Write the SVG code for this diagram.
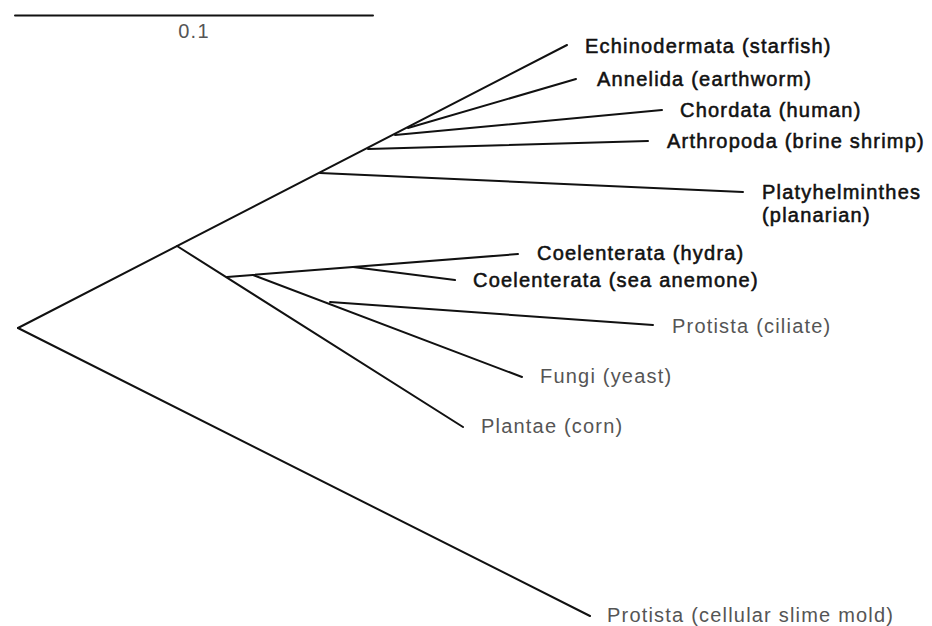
<svg xmlns="http://www.w3.org/2000/svg" width="932" height="626" viewBox="0 0 932 626">
  <style>
    .br { stroke: #111; stroke-width: 2; fill: none; stroke-linecap: round; }
    .lbl { font-family: "Liberation Sans", Arial, sans-serif; font-size: 20px; letter-spacing: 1.2px; }
    .dk { fill: #111; stroke: #111; stroke-width: 0.55; }
    .lt { fill: #555; }
  </style>
  <rect width="932" height="626" fill="#fff"/>

  <!-- scale bar -->
  <g id="scale">
    <line class="br" x1="15" y1="15.5" x2="373" y2="15.5"/>
    <text class="lbl lt" x="194" y="38" text-anchor="middle" font-size="17" letter-spacing="0">0.1</text>
  </g>

  <!-- tree branches -->
  <g id="connectors">
    <!-- root split -->
    <line class="br" x1="18" y1="328" x2="590" y2="616"/>
    <line class="br" x1="18" y1="328" x2="567" y2="45"/>
    <!-- metazoan crown -->
    <line class="br" x1="408" y1="128" x2="576" y2="79"/>
    <line class="br" x1="395" y1="135" x2="662" y2="110"/>
    <line class="br" x1="368" y1="149" x2="648" y2="141"/>
    <line class="br" x1="320" y1="173" x2="743" y2="192"/>
    <!-- lower clade -->
    <line class="br" x1="177" y1="246" x2="463" y2="427"/>
    <line class="br" x1="227" y1="277" x2="518" y2="254"/>
    <line class="br" x1="353" y1="267" x2="455" y2="280"/>
    <line class="br" x1="253" y1="275" x2="522" y2="377"/>
    <line class="br" x1="330" y1="302" x2="653" y2="325"/>
  </g>

  <!-- leaf labels -->
  <g id="echinodermata"><text class="lbl dk" x="585" y="53">Echinodermata (starfish)</text></g>
  <g id="annelida"><text class="lbl dk" x="597" y="86">Annelida (earthworm)</text></g>
  <g id="chordata"><text class="lbl dk" x="680" y="117">Chordata (human)</text></g>
  <g id="arthropoda"><text class="lbl dk" x="667" y="148">Arthropoda (brine shrimp)</text></g>
  <g id="platyhelminthes">
    <text class="lbl dk" x="762" y="199">Platyhelminthes</text>
    <text class="lbl dk" x="762" y="222">(planarian)</text>
  </g>
  <g id="hydra"><text class="lbl dk" x="537" y="260">Coelenterata (hydra)</text></g>
  <g id="anemone"><text class="lbl dk" x="473" y="287">Coelenterata (sea anemone)</text></g>
  <g id="ciliate"><text class="lbl lt" x="672" y="333">Protista (ciliate)</text></g>
  <g id="yeast"><text class="lbl lt" x="540" y="383">Fungi (yeast)</text></g>
  <g id="corn"><text class="lbl lt" x="481" y="433">Plantae (corn)</text></g>
  <g id="slime-mold"><text class="lbl lt" x="607" y="622">Protista (cellular slime mold)</text></g>
</svg>
